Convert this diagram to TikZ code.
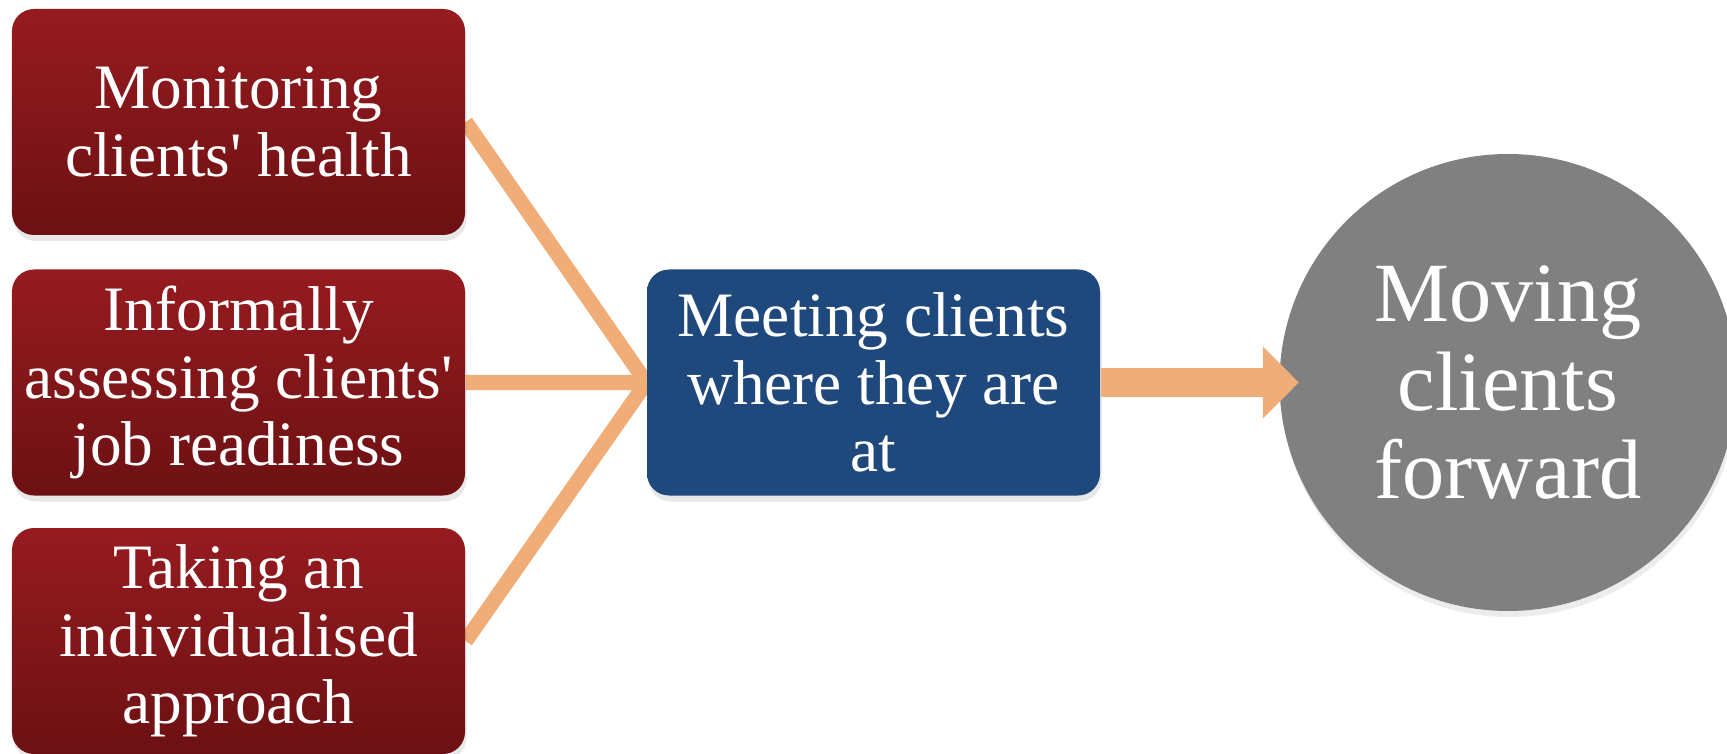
\documentclass[tikz,border=0pt]{standalone}
\usepackage{fontspec}
\setmainfont{Liberation Serif}
\usetikzlibrary{positioning, arrows.meta, shadows, backgrounds}

\definecolor{stepred}{RGB}{150,27,31}
\definecolor{stepreddark}{RGB}{108,17,19}
\definecolor{hubblue}{RGB}{31,73,125}
\definecolor{linkorange}{RGB}{241,173,120}
\definecolor{goalgray}{RGB}{128,128,128}

\tikzset{
	stepbox/.style={rectangle, rounded corners=2.2mm, minimum width=45.3mm, minimum height=22.6mm,
		top color=stepred, bottom color=stepreddark, text=white, align=center, inner sep=0pt,
		font=\fontsize{18}{19.2}\selectfont,
		drop shadow={opacity=0.18, shadow xshift=0.15mm, shadow yshift=-0.6mm}},
	hubbox/.style={stepbox, top color=hubblue, bottom color=hubblue},
	goal/.style={circle, minimum size=45.7mm, inner sep=0pt, fill=goalgray, text=white, align=center,
		font=\fontsize{24}{25.3}\selectfont,
		drop shadow={opacity=0.15, shadow xshift=0.15mm, shadow yshift=-0.6mm}},
	link/.style={linkorange, line width=1.5mm}
}

\begin{document}
\begin{tikzpicture}
			\useasboundingbox (0,0) rectangle (17.27,-7.54);
			\node[stepbox] (health) at (2.385,-1.22) {Monitoring\\clients\textquotesingle{} health};
			\node[stepbox] (ready) at (2.385,-3.825) {Informally\\assessing clients\textquotesingle\\job readiness};
			\node[stepbox] (approach) at (2.385,-6.41) {Taking an\\individualised\\approach};
			\node[hubbox] (meet) at (8.735,-3.825) {Meeting clients\\where they are\\at};
			\node[goal] (forward) at (15.08,-3.825) {Moving\\clients\\forward};
			\begin{scope}[on background layer]
				\draw[link] (health.east) -- (meet.west)(ready.east) -- (meet.west)(approach.east) -- (meet.west);
			\end{scope}
			\draw[linkorange, line width=2.9mm, -{Triangle[length=3.6mm, width=7mm]}, shorten >=-2mm] (meet.east) -- (forward.west);
		\end{tikzpicture}
\end{document}
